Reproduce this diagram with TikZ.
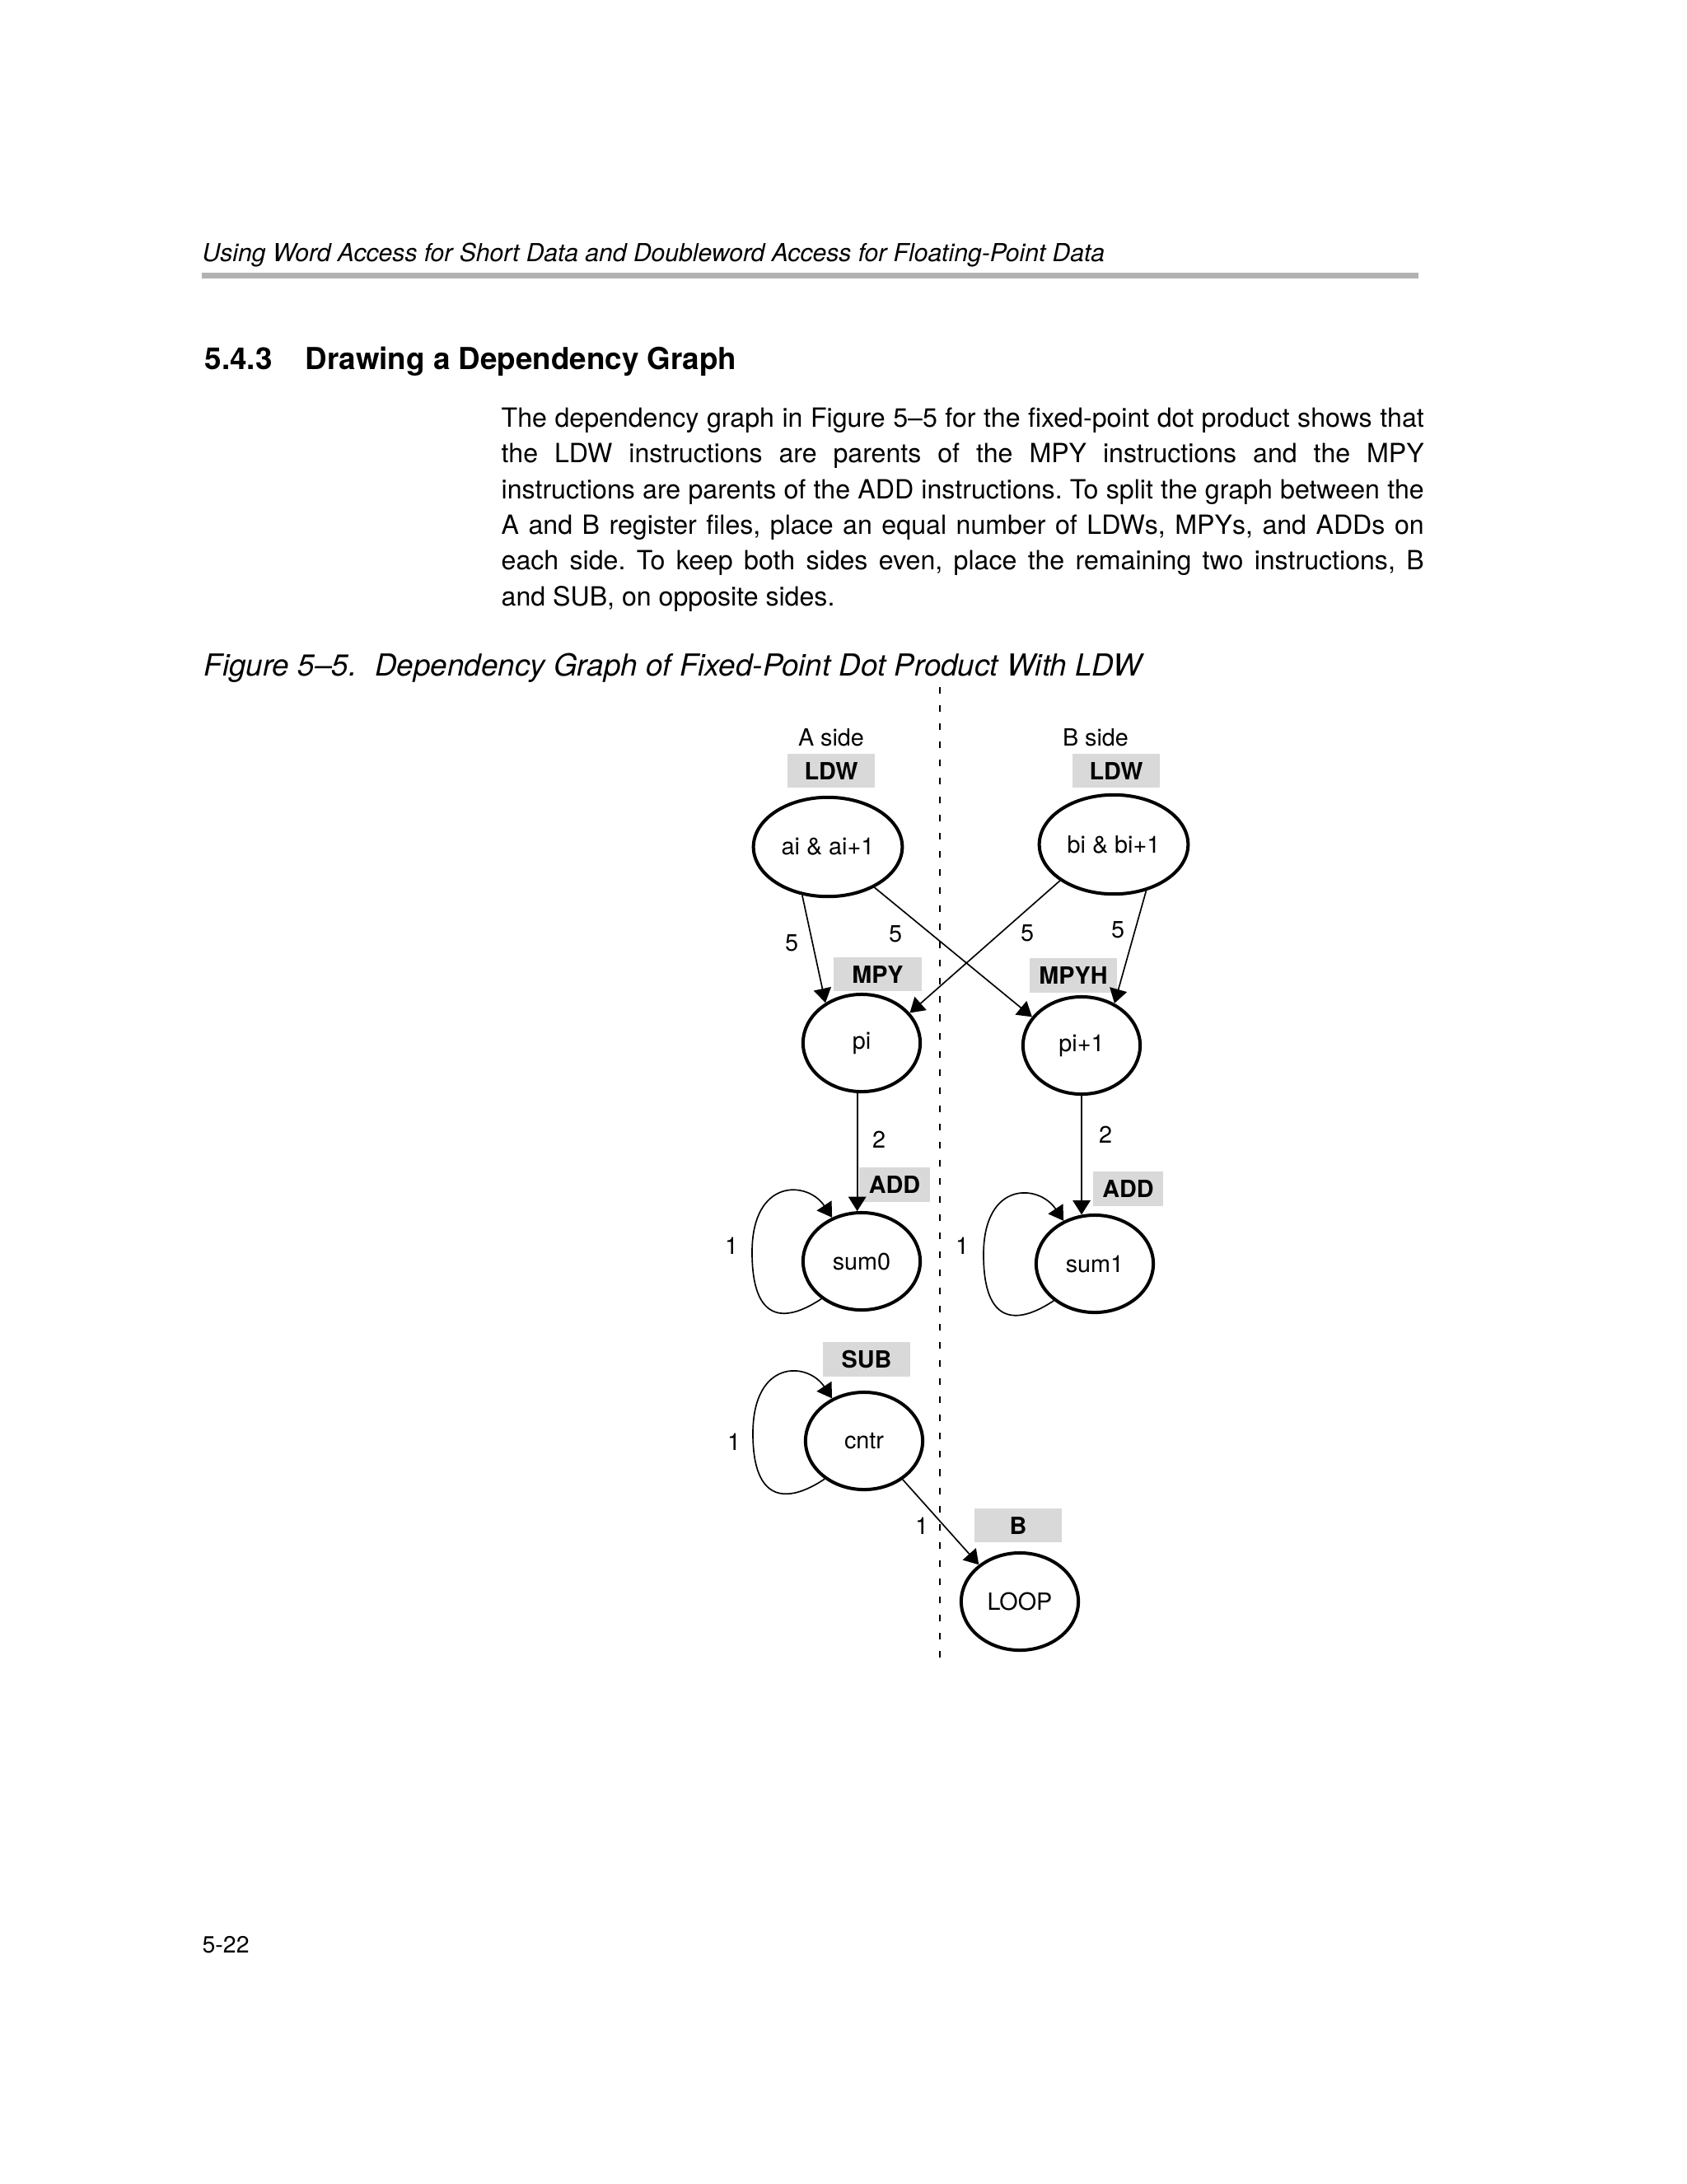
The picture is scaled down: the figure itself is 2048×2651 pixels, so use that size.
\documentclass[tikz,border=0pt]{standalone}
\usepackage{fontspec}
\setmainfont{TeX Gyre Heros}
\usetikzlibrary{shapes.geometric, arrows.meta}
\definecolor{tabgray}{gray}{0.85}
\definecolor{rulegray}{gray}{0.7}

\begin{document}
\begin{tikzpicture}[
		x=0.2989pt, y=-0.2989pt,
		every node/.style={inner sep=0pt, font=\fontsize{8.6}{10}\selectfont},
		op/.style={ellipse, draw, line width=1.2pt, minimum width=42.5pt, minimum height=35.3pt},
		tag/.style={rectangle, fill=tabgray, minimum width=31.7pt, minimum height=12.3pt, font=\fontsize{8.6}{10}\selectfont\bfseries},
		dep/.style={line width=0.5pt, -{Triangle[length=5.2pt, width=6.4pt]}}
	]
  \useasboundingbox (0, 0) rectangle (2048, 2651);
  \fill [white] (0, 0) rectangle (2048, 2651);

  % page text
  \node (header) [anchor=base west, font=\fontsize{9}{11}\selectfont\itshape] at (245, 317) {Using Word Access for Short Data and Doubleword Access for Floating-Point Data};
  \fill [rulegray] (245, 331) rectangle (1722, 338);
  \node (sec_num) [anchor=base west, font=\fontsize{11}{13}\selectfont\bfseries] at (248, 448) {5.4.3};
  \node (sec_title) [anchor=base west, font=\fontsize{11}{13}\selectfont\bfseries] at (370, 448) {Drawing a Dependency Graph};
  \node (para) [anchor=base west, font=\fontsize{9.6}{13}\selectfont] at (608, 518) {\parbox[t]{334.8pt}{\frenchspacing The dependency graph in Figure 5–5 for the fixed-point dot product shows that\linebreak
    the LDW instructions are parents of the MPY instructions and the MPY\linebreak
    instructions are parents of the ADD instructions. To split the graph between the\linebreak
    A and B register files, place an equal number of LDWs, MPYs, and ADDs on\linebreak
    each side. To keep both sides even, place the remaining two instructions, B\linebreak
    and SUB, on opposite sides.}};
  \node (caption) [anchor=base west, font=\fontsize{11}{13}\selectfont\itshape] at (247, 820) {Figure 5–5.\hspace{0.6em}Dependency Graph of Fixed-Point Dot Product With LDW};
  \node (page_num) [anchor=base west, font=\fontsize{8.5}{10}\selectfont] at (245, 2370) {5-22};

  % register sides
  \coordinate (div_top) at (1141, 834);
  \coordinate (div_bot) at (1141, 2017);
  \draw [line width=0.5pt, dash pattern=on 2.4pt off 4.2pt] (div_top) -- (div_bot);
  \node (a_side) at (1009, 895) {A side};
  \node (b_side) at (1330, 895) {B side};

  % instructions
  \node (ldw_a) [tag] at (1009, 935.5) {LDW};
  \node (ldw_b) [tag] at (1355, 935.5) {LDW};
  \node (mpy) [tag] at (1065.5, 1182.5) {MPY};
  \node (mpyh) [tag] at (1303, 1184) {MPYH};
  \node (add_a) [tag, minimum width=25.7pt] at (1086, 1438) {ADD};
  \node (add_b) [tag, minimum width=25.7pt] at (1369.5, 1443) {ADD};
  \node (sub) [tag] at (1052, 1650) {SUB};
  \node (br) [tag] at (1236, 1851.5) {B};

  % operands
  \node (ai) [op, minimum width=54pt, minimum height=36pt] at (1005, 1028) {ai \& ai+1};
  \node (bi) [op, minimum width=54pt, minimum height=36pt] at (1352, 1025) {bi \& bi+1};
  \node (pi) [op] at (1046, 1266) {pi};
  \node (pi1) [op] at (1313, 1269) {pi+1};
  \node (sum0) [op] at (1046, 1531) {sum0};
  \node (sum1) [op] at (1329, 1534) {sum1};
  \node (cntr) [op] at (1049, 1749) {cntr};
  \node (loop) [op] at (1238, 1944) {LOOP};

  % dependencies
  \draw [dep] (ai.242) -- (pi.132);
  \draw [dep] (ai.319) -- (pi1.150);
  \draw [dep] (bi.214) -- (pi.32);
  \draw [dep] (bi.305) -- (pi1.52);
  \draw [dep] (pi.265) -- (sum0.95);
  \draw [dep] (pi1.south) -- (sum1.105);
  \draw [dep] (cntr.315) -- (loop.138);
  \draw [dep] (sum0.223) .. controls +(-45, 30) and +(0, 85) .. ([shift={(-133, -11)}]sum0.center) .. controls +(0, -90) and +(-30, -45) .. (sum0.124);
  \draw [dep] (sum1.222) .. controls +(-45, 30) and +(0, 85) .. ([shift={(-135, -11)}]sum1.center) .. controls +(0, -90) and +(-30, -45) .. (sum1.126);
  \draw [dep] (cntr.224) .. controls +(-45, 30) and +(0, 85) .. ([shift={(-135, -9)}]cntr.center) .. controls +(0, -90) and +(-30, -45) .. (cntr.127);

  % latencies
  \node (ai_pi_label) at (961, 1145) {5};
  \node (ai_pi1_label) at (1087, 1134) {5};
  \node (bi_pi_label) at (1247, 1133) {5};
  \node (bi_pi1_label) at (1357, 1129) {5};
  \node (pi_sum0_label) at (1067, 1383) {2};
  \node (pi1_sum1_label) at (1342, 1377) {2};
  \node (sum0_label) at (888, 1512) {1};
  \node (sum1_label) at (1168, 1512) {1};
  \node (cntr_label) at (891, 1750) {1};
  \node (cntr_loop_label) at (1119, 1852) {1};
\end{tikzpicture}
\end{document}
